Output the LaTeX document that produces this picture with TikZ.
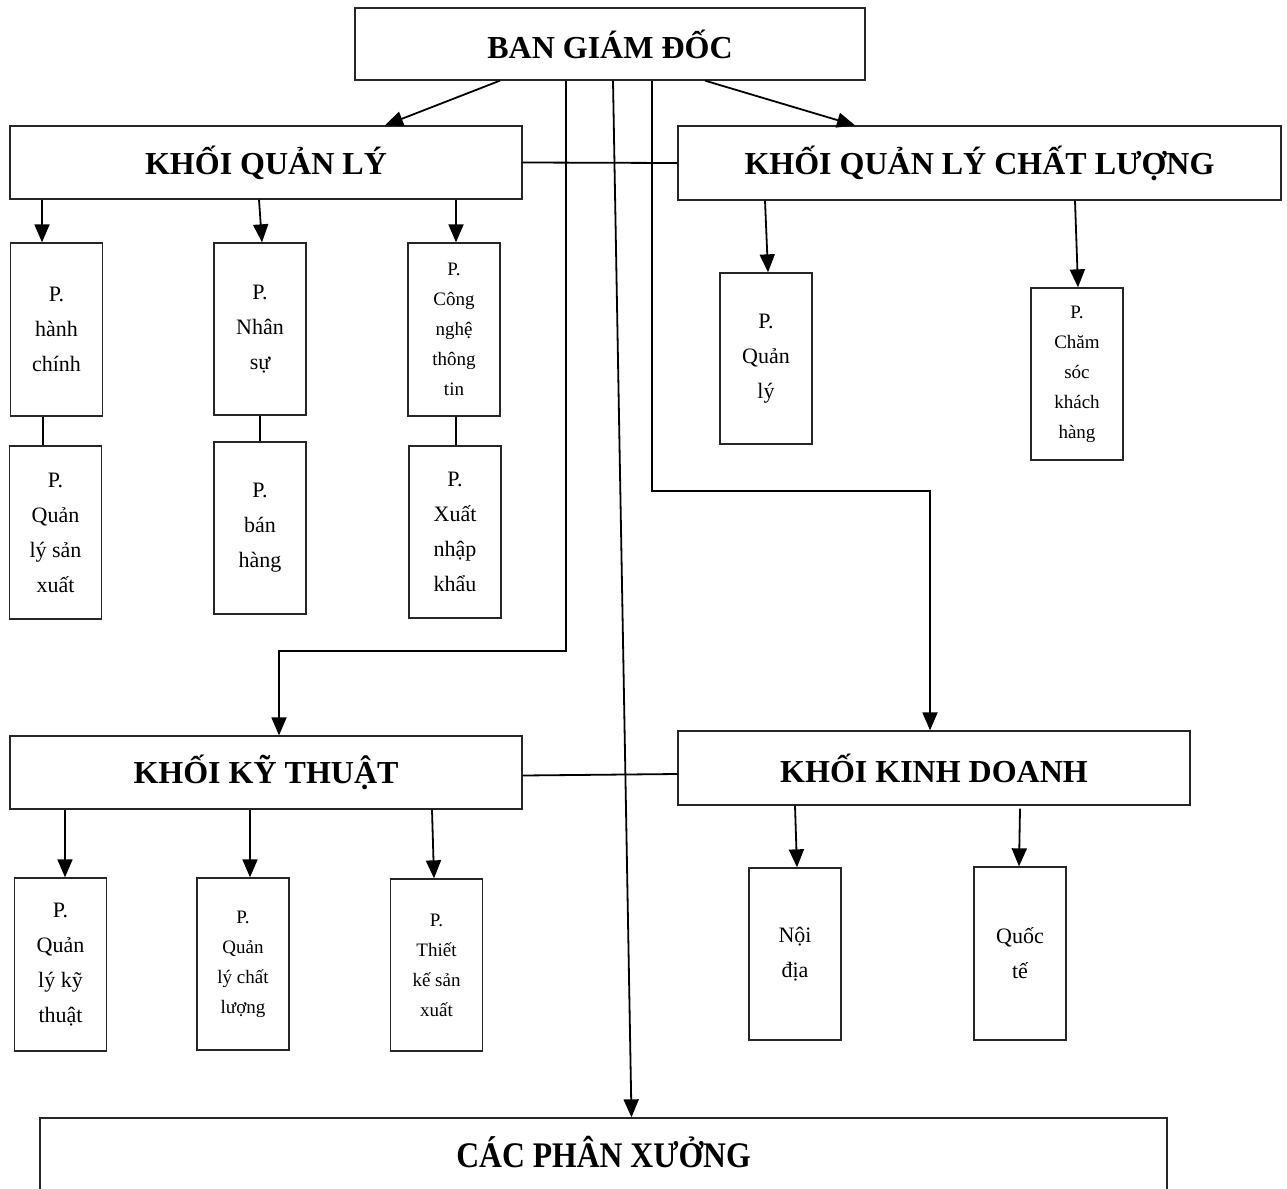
\documentclass[tikz,border=0pt]{standalone}
\usepackage{fontspec}
\usepackage{graphicx}
\setmainfont{Liberation Serif}
\usetikzlibrary{arrows.meta}
\tikzset{
  box/.style={draw=black!85, line width=1.3pt, fill=white, inner sep=0pt, align=center},
  head/.style={box, font=\fontsize{32}{38}\selectfont\bfseries},
  dept/.style={box, minimum width=92pt, minimum height=172pt, font=\fontsize{22}{35}\selectfont},
  deptsmall/.style={box, minimum width=92pt, minimum height=172pt, font=\fontsize{19}{30}\selectfont},
  arr/.style={line width=1.8pt, -{Triangle[length=18pt,width=15pt]}},
  link/.style={line width=1.8pt}
}
\begin{document}
\begin{tikzpicture}[x=1pt,y=-1pt]
\useasboundingbox (0,0) rectangle (1287,1188);
% top
\node[head, minimum width=510pt, minimum height=72pt, font=\fontsize{32}{38}\selectfont\bfseries] (bgd) at (610,44) {BAN GIÁM ĐỐC};
% blocks
\node[head, minimum width=512pt, minimum height=73pt] (kql) at (266,162.5) {KHỐI QUẢN LÝ};
\node[head, minimum width=603pt, minimum height=74pt] (kqlcl) at (979.5,163) {KHỐI QUẢN LÝ CHẤT LƯỢNG};
\node[head, minimum width=512pt, minimum height=73pt] (kkt) at (266,772.5) {KHỐI KỸ THUẬT};
\node[head, minimum width=512pt, minimum height=74pt] (kkd) at (934,768) {KHỐI KINH DOANH};
\node[box, minimum width=1127pt, minimum height=98pt, text height=20pt, text depth=20pt] (cpx) at (603.5,1167)
  {\scalebox{0.88}[1]{\fontsize{36}{40}\selectfont\bfseries CÁC PHÂN XƯỞNG}};
% departments of KQL
\node[dept, minimum height=173pt] (phc) at (56.5,329.5) {P.\\hành\\chính};
\node[dept, minimum height=173pt] (pqlsx) at (55.5,532.5) {P.\\Quản\\lý sản\\xuất};
\node[dept] (pns) at (260,329) {P.\\Nhân\\sự};
\node[dept] (pbh) at (260,528) {P.\\bán\\hàng};
\node[deptsmall, minimum height=173pt] (pcntt) at (454,329.5) {P.\\Công\\nghệ\\thông\\tin};
\node[dept] (pxnk) at (455,532) {P.\\Xuất\\nhập\\khẩu};
% departments of KQLCL
\node[dept, minimum height=171pt] (pql) at (766,358.5) {P.\\Quản\\lý};
\node[deptsmall] (pcskh) at (1077,374) {P.\\Chăm\\sóc\\khách\\hàng};
% departments of KKT
\node[dept, minimum height=173pt] (pqlkt) at (60.5,964.5) {P.\\Quản\\lý kỹ\\thuật};
\node[deptsmall] (pqlcl) at (243,964) {P.\\Quản\\lý chất\\lượng};
\node[deptsmall] (ptksx) at (436.5,965) {P.\\Thiết\\kế sản\\xuất};
% departments of KKD
\node[dept] (pnd) at (795,954) {Nội\\địa};
\node[dept, minimum height=173pt] (pqt) at (1020,953.5) {Quốc\\tế};
% connectors from BGD
\draw[arr] ([xshift=-110pt]bgd.south) -- ([xshift=119pt]kql.north);
\draw[arr] ([xshift=95pt]bgd.south) -- ([xshift=-124.5pt]kqlcl.north);
\draw[arr] ([xshift=-44pt]bgd.south) -- ++(0,570) -| ([xshift=13pt]kkt.north);
\draw[arr] ([xshift=3pt]bgd.south) -- ([xshift=28pt]cpx.north);
\draw[arr] ([xshift=42pt]bgd.south) -- ++(0,410) -| ([xshift=-4pt]kkd.north);
% horizontal links
\draw[link] (kql.east) -- (kqlcl.west);
\draw[link] ([yshift=-3pt]kkt.east) -- ([yshift=-6pt]kkd.west);
% KQL arrows
\draw[arr] ([xshift=-224pt]kql.south) -- ([xshift=-14.5pt]phc.north);
\draw[arr] ([xshift=-7pt]kql.south) -- ([xshift=2pt]pns.north);
\draw[arr] ([xshift=190pt]kql.south) -- ([xshift=2pt]pcntt.north);
\draw[link] ([xshift=-13.5pt]phc.south) -- ([xshift=-12.5pt]pqlsx.north);
\draw[link] (pns.south) -- (pbh.north);
\draw[link] ([xshift=2pt]pcntt.south) -- ([xshift=1pt]pxnk.north);
% KQLCL arrows
\draw[arr] ([xshift=-214.5pt]kqlcl.south) -- ([xshift=2pt]pql.north);
\draw[arr] ([xshift=95.5pt]kqlcl.south) -- ([xshift=1pt]pcskh.north);
% KKT arrows
\draw[arr] ([xshift=-201pt]kkt.south) -- ([xshift=4.5pt]pqlkt.north);
\draw[arr] ([xshift=-16pt]kkt.south) -- ([xshift=7pt]pqlcl.north);
\draw[arr] ([xshift=166pt]kkt.south) -- ([xshift=-2.5pt]ptksx.north);
% KKD arrows
\draw[arr] ([xshift=-139pt]kkd.south) -- ([xshift=2pt]pnd.north);
\draw[arr] ([xshift=86pt,yshift=-3pt]kkd.south) -- ([xshift=-1pt]pqt.north);
\end{tikzpicture}
\end{document}
